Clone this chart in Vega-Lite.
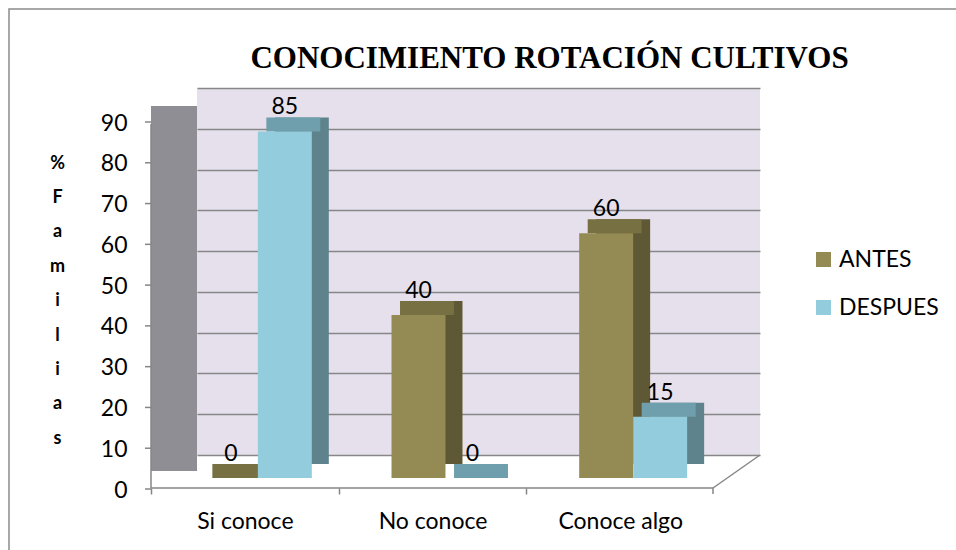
{
  "$schema": "https://vega.github.io/schema/vega-lite/v6.json",
  "width": 563,
  "height": 367,
  "autosize": "none",
  "padding": {"left": 197, "top": 88, "right": 196, "bottom": 95},
  "background": "white",
  "view": {"fill": "#E6E0EC", "stroke": null},
  "title": {
    "text": "CONOCIMIENTO ROTACIÓN CULTIVOS",
    "font": "Liberation Serif",
    "fontSize": 31,
    "fontWeight": "bold",
    "color": "black",
    "anchor": "middle",
    "frame": "group",
    "dx": 71,
    "offset": -67
  },
  "datasets": {
    "marcas": [{"v": 0}, {"v": 10}, {"v": 20}, {"v": 30}, {"v": 40}, {"v": 50}, {"v": 60}, {"v": 70}, {"v": 80}, {"v": 90}]
  },
  "data": {
    "values": [
      {"categoria": "Si conoce", "serie": "ANTES", "valor": 0},
      {"categoria": "Si conoce", "serie": "DESPUES", "valor": 85},
      {"categoria": "No conoce", "serie": "ANTES", "valor": 40},
      {"categoria": "No conoce", "serie": "DESPUES", "valor": 0},
      {"categoria": "Conoce algo", "serie": "ANTES", "valor": 60},
      {"categoria": "Conoce algo", "serie": "DESPUES", "valor": 15}
    ]
  },
  "encoding": {
    "x": {
      "field": "categoria",
      "type": "nominal",
      "sort": ["Si conoce", "No conoce", "Conoce algo"],
      "scale": {"paddingInner": 0.425, "paddingOuter": 0.2125},
      "axis": {
        "title": null,
        "orient": "bottom",
        "offset": 33,
        "domain": false,
        "ticks": true,
        "bandPosition": 0,
        "tickOffset": -86,
        "tickSize": 6,
        "tickColor": "#868686",
        "tickWidth": 1.5,
        "labelOffset": 40,
        "labelAngle": 0,
        "labelFont": "Lato",
        "labelFontSize": 23,
        "labelColor": "black",
        "labelPadding": 16,
        "grid": false
      }
    }
  },
  "layer": [
    {
      "data": {"values": [{}]},
      "mark": {"type": "rect", "fill": null, "stroke": "#8C8C8C", "strokeWidth": 1.5, "xOffset": -188, "x2Offset": 250, "yOffset": -79, "y2Offset": 200},
      "encoding": {
        "x": {"value": 0}, "x2": {"value": "width"},
        "y": {"value": 0}, "y2": {"value": "height"}
      }
    },
    {
      "data": {"values": [{}]},
      "mark": {"type": "rect", "color": "#8F8E94", "xOffset": -46, "yOffset": 16, "y2Offset": 18},
      "encoding": {
        "x": {"value": 0}, "x2": {"value": 0},
        "y": {"datum": 0, "type": "quantitative"}, "y2": {"datum": 90}
      }
    },
    {
      "data": {"values": [{}]},
      "mark": {"type": "rule", "color": "#868686", "strokeWidth": 1.5, "xOffset": -46, "x2Offset": -47, "yOffset": 33, "y2Offset": 33},
      "encoding": {
        "x": {"value": 0}, "x2": {"value": "width"},
        "y": {"datum": 0, "type": "quantitative"}, "y2": {"datum": 0}
      }
    },
    {
      "data": {"values": [{}]},
      "mark": {"type": "rule", "color": "#868686", "strokeWidth": 1.5, "xOffset": -47, "yOffset": 33},
      "encoding": {
        "x": {"value": "width"}, "x2": {"value": "width"},
        "y": {"datum": 0, "type": "quantitative"}, "y2": {"datum": 0}
      }
    },
    {
      "data": {"values": [{}]},
      "mark": {"type": "rule", "color": "#868686", "strokeWidth": 1.5, "xOffset": -47, "x2Offset": -47, "yOffset": 33, "y2Offset": 39},
      "encoding": {
        "x": {"value": "width"}, "x2": {"value": "width"},
        "y": {"datum": 0, "type": "quantitative"}, "y2": {"datum": 0}
      }
    },
    {
      "data": {"values": [{}]},
      "mark": {"type": "rule", "color": "#868686", "strokeWidth": 1.5, "xOffset": -46, "x2Offset": -46, "yOffset": 33, "y2Offset": 36},
      "encoding": {
        "x": {"value": 0}, "x2": {"value": 0},
        "y": {"datum": 0, "type": "quantitative"}, "y2": {"datum": 90}
      }
    },
    {
      "data": {"name": "marcas"},
      "mark": {"type": "rule", "color": "#868686", "strokeWidth": 1.5, "xOffset": -52, "x2Offset": -46, "yOffset": 34, "y2Offset": 34},
      "encoding": {
        "x": {"value": 0}, "x2": {"value": 0},
        "y": {"field": "v", "type": "quantitative"}, "y2": {"field": "v"}
      }
    },
    {
      "transform": [{"filter": "datum.serie === 'ANTES'"}],
      "mark": {"type": "bar", "width": {"band": 0.5}, "color": "#5F5835", "xOffset": -43, "x2Offset": -43, "yOffset": 9, "y2Offset": 9},
      "encoding": {
        "y": {"field": "valor", "type": "quantitative"},
        "y2": {"datum": 0}
      }
    },
    {
      "transform": [{"filter": "datum.serie === 'DESPUES'"}],
      "mark": {"type": "bar", "width": {"band": 0.5}, "color": "#5E838D", "xOffset": 11, "x2Offset": 11, "yOffset": 9, "y2Offset": 9},
      "encoding": {
        "y": {"field": "valor", "type": "quantitative"},
        "y2": {"datum": 0}
      }
    },
    {
      "transform": [{"filter": "datum.serie === 'ANTES'"}],
      "mark": {"type": "bar", "width": {"band": 0.5}, "color": "#777042", "xOffset": -51.5, "x2Offset": -51.5, "yOffset": 9, "y2Offset": 23},
      "encoding": {
        "y": {"field": "valor", "type": "quantitative"},
        "y2": {"field": "valor"}
      }
    },
    {
      "transform": [{"filter": "datum.serie === 'DESPUES'"}],
      "mark": {"type": "bar", "width": {"band": 0.5}, "color": "#6F9FAC", "xOffset": 2.5, "x2Offset": 2.5, "yOffset": 9, "y2Offset": 23},
      "encoding": {
        "y": {"field": "valor", "type": "quantitative"},
        "y2": {"field": "valor"}
      }
    },
    {
      "transform": [{"filter": "datum.serie === 'ANTES'"}],
      "mark": {"type": "bar", "width": {"band": 0.5}, "xOffset": -60, "x2Offset": -60, "yOffset": 23, "y2Offset": 23},
      "encoding": {
        "y": {
          "field": "valor",
          "type": "quantitative",
          "scale": {"domain": [0, 90], "nice": false},
          "axis": {
            "orient": "left",
            "offset": 46,
            "values": [0, 10, 20, 30, 40, 50, 60, 70, 80, 90],
            "domain": false,
            "ticks": false,
            "grid": true,
            "gridColor": "#878787",
            "gridWidth": 1.5,
            "labelOffset": 35,
            "labelPadding": 24,
            "labelFont": "Lato",
            "labelFontSize": 23,
            "labelColor": "black",
            "title": ["%", "F", "a", "m", "i", "l", "i", "a", "s"],
            "titleAngle": 0,
            "titleFont": "Lato",
            "titleFontSize": 18,
            "titleFontWeight": "bold",
            "titleColor": "black",
            "titleLineHeight": 34.4,
            "titleAlign": "center",
            "titleBaseline": "middle",
            "titleX": -94,
            "titleY": 75
          }
        },
        "y2": {"datum": 0},
        "color": {
          "field": "serie",
          "type": "nominal",
          "scale": {"domain": ["ANTES", "DESPUES"], "range": ["#948A54", "#93CDDD"]},
          "legend": {
            "title": null,
            "orient": "none",
            "legendX": 615,
            "legendY": 160,
            "symbolType": "square",
            "symbolSize": 225,
            "symbolStrokeWidth": 0,
            "labelFont": "Lato",
            "labelFontSize": 23,
            "labelColor": "black",
            "labelOffset": 4,
            "rowPadding": 24
          }
        }
      }
    },
    {
      "transform": [{"filter": "datum.serie === 'DESPUES'"}],
      "mark": {"type": "bar", "width": {"band": 0.5}, "xOffset": -6, "x2Offset": -6, "yOffset": 23, "y2Offset": 23},
      "encoding": {
        "y": {"field": "valor", "type": "quantitative"},
        "y2": {"datum": 0},
        "color": {"field": "serie", "type": "nominal"}
      }
    },
    {
      "transform": [{"filter": "datum.serie === 'ANTES'"}],
      "mark": {"type": "text", "xOffset": -60, "yOffset": -1, "baseline": "middle", "align": "center", "font": "Lato", "fontSize": 23, "color": "black"},
      "encoding": {
        "y": {"field": "valor", "type": "quantitative"},
        "text": {"field": "valor", "type": "quantitative"}
      }
    },
    {
      "transform": [{"filter": "datum.serie === 'DESPUES'"}],
      "mark": {"type": "text", "xOffset": -6, "yOffset": -1, "baseline": "middle", "align": "center", "font": "Lato", "fontSize": 23, "color": "black"},
      "encoding": {
        "y": {"field": "valor", "type": "quantitative"},
        "text": {"field": "valor", "type": "quantitative"}
      }
    }
  ]
}
